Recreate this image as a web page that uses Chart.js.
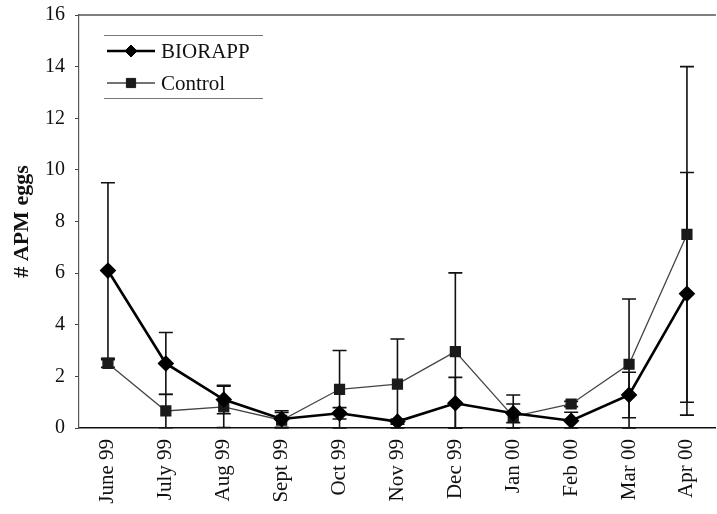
<!DOCTYPE html>
<html>
<head>
<meta charset="utf-8">
<title># APM eggs</title>
<script src="https://cdn.jsdelivr.net/npm/chart.js@4/dist/chart.umd.min.js"></script>
<style>
  html, body { margin: 0; padding: 0; background: #fff; overflow: hidden; }
  #wrap { width: 717px; height: 514px; overflow: hidden; position: relative; }
  canvas { display: block; }
</style>
</head>
<body>
<div id="wrap"><canvas id="c" width="725" height="514"></canvas></div>
<script>
// Monthly sampling dates
const months = ['June 99', 'July 99', 'Aug 99', 'Sept 99', 'Oct 99', 'Nov 99',
                'Dec 99', 'Jan 00', 'Feb 00', 'Mar 00', 'Apr 00'];

// Mean number of APM eggs and standard error, BIORAPP plots
const biorappMean = [6.1, 2.5, 1.1, 0.35, 0.57, 0.25, 0.96, 0.57, 0.28, 1.28, 5.2];
const biorappSE   = [3.4, 1.2, 0.55, 0.32, 0.22, 0.1, 1.0, 0.36, 0.33, 0.88, 4.7];

// Mean number of APM eggs and standard error, Control plots
const controlMean = [2.5, 0.66, 0.82, 0.3, 1.5, 1.7, 2.96, 0.44, 0.93, 2.47, 7.5];
const controlSE   = [0.15, 0.65, 0.8, 0.3, 1.5, 1.75, 3.05, 0.84, 0.1, 2.53, 6.5];

// Y axis range and step
const yMin = 0, yMax = 16, yStep = 2;

const serif = "'Liberation Serif', 'Times New Roman', serif";

// Vertical error bars (mean ± SE, lower end held at zero) with end caps
const errorBars = {
  id: 'errorBars',
  beforeDatasetsDraw(chart) {
    const { ctx, scales: { x, y } } = chart;
    ctx.save();
    ctx.strokeStyle = '#111';
    ctx.lineWidth = 1.6;
    chart.data.datasets.forEach((ds) => {
      const err = ds.errors;
      if (!err) return;
      ds.data.forEach((v, i) => {
        const px = x.getPixelForValue(i);
        const hi = y.getPixelForValue(v + err[i]);
        const lo = y.getPixelForValue(Math.max(yMin, v - err[i]));
        const cap = 7;
        ctx.beginPath();
        ctx.moveTo(px, hi); ctx.lineTo(px, lo);
        ctx.moveTo(px - cap, hi); ctx.lineTo(px + cap, hi);
        ctx.moveTo(px - cap, lo); ctx.lineTo(px + cap, lo);
        ctx.stroke();
      });
    });
    ctx.restore();
  }
};

// Top frame line and the legend block inside the plot
const frameAndLegend = {
  id: 'frameAndLegend',
  afterDraw(chart) {
    const { ctx, chartArea: a } = chart;
    ctx.save();
    ctx.strokeStyle = '#555';
    ctx.lineWidth = 1.5;
    ctx.beginPath();
    ctx.moveTo(a.left, a.top); ctx.lineTo(a.right, a.top);
    ctx.stroke();

    // legend rules
    const lx0 = 104, lx1 = 263;
    ctx.strokeStyle = '#777';
    ctx.lineWidth = 1;
    ctx.beginPath();
    ctx.moveTo(lx0, 35.5); ctx.lineTo(lx1, 35.5);
    ctx.moveTo(lx0, 98.5); ctx.lineTo(lx1, 98.5);
    ctx.stroke();

    const rows = [51, 83];
    chart.data.datasets.forEach((ds, k) => {
      const yy = rows[k];
      ctx.strokeStyle = ds.borderColor;
      ctx.lineWidth = ds.borderWidth;
      ctx.beginPath();
      ctx.moveTo(107, yy); ctx.lineTo(155, yy);
      ctx.stroke();
      ctx.fillStyle = ds.pointBackgroundColor;
      ctx.strokeStyle = ds.pointBorderColor;
      ctx.lineWidth = 1;
      Chart.helpers.drawPoint(ctx, { pointStyle: ds.pointStyle, radius: ds.pointRadius - 0.5, borderWidth: 1 }, 131, yy);
      ctx.fillStyle = '#111';
      ctx.font = '21px ' + serif;
      ctx.textBaseline = 'middle';
      ctx.textAlign = 'left';
      ctx.fillText(ds.label, 161, yy + 1);
    });
    ctx.restore();
  }
};

new Chart(document.getElementById('c'), {
  type: 'line',
  data: {
    labels: months,
    datasets: [
      {
        label: 'BIORAPP',
        data: biorappMean,
        errors: biorappSE,
        borderColor: '#000',
        borderWidth: 2.6,
        pointStyle: 'rectRot',
        pointRadius: 6.5,
        pointHoverRadius: 6.5,
        pointBackgroundColor: '#000',
        pointBorderColor: '#000',
        tension: 0,
        order: 1
      },
      {
        label: 'Control',
        data: controlMean,
        errors: controlSE,
        borderColor: '#444',
        borderWidth: 1.3,
        pointStyle: 'rect',
        pointRadius: 7,
        pointHoverRadius: 7,
        pointBackgroundColor: '#1a1a1a',
        pointBorderColor: '#1a1a1a',
        tension: 0,
        order: 2
      }
    ]
  },
  options: {
    responsive: false,
    devicePixelRatio: 1,
    animation: false,
    events: [],
    layout: { padding: { top: 15, right: 1, bottom: 0, left: 0 } },
    plugins: {
      legend: { display: false },
      tooltip: { enabled: false }
    },
    scales: {
      x: {
        type: 'category',
        offset: true,
        grid: { display: true, drawOnChartArea: false, drawTicks: false },
        border: { display: true, color: '#111', width: 1.6 },
        ticks: {
          color: '#111',
          font: { family: serif, size: 21 },
          minRotation: 90,
          maxRotation: 90,
          padding: 11,
          autoSkip: false
        },
        afterFit(s) {
          s.height = 86;
          s.paddingLeft = 0; s.paddingRight = 0;
        }
      },
      y: {
        min: yMin,
        max: yMax,
        grid: { display: true, drawOnChartArea: false, drawTicks: true, tickLength: 4, color: '#444' },
        border: { display: true, color: '#555', width: 1.2 },
        ticks: {
          stepSize: yStep,
          color: '#111',
          font: { family: serif, size: 20 },
          padding: 10
        },
        title: {
          display: true,
          text: '# APM eggs',
          color: '#111',
          font: { family: serif, size: 22, weight: 'bold' },
          padding: { top: 9, bottom: 0 }
        },
        afterFit(s) {
          s.width = 79;
          s.paddingTop = 0; s.paddingBottom = 0;
        }
      }
    }
  },
  plugins: [errorBars, frameAndLegend]
});
</script>
</body>
</html>
